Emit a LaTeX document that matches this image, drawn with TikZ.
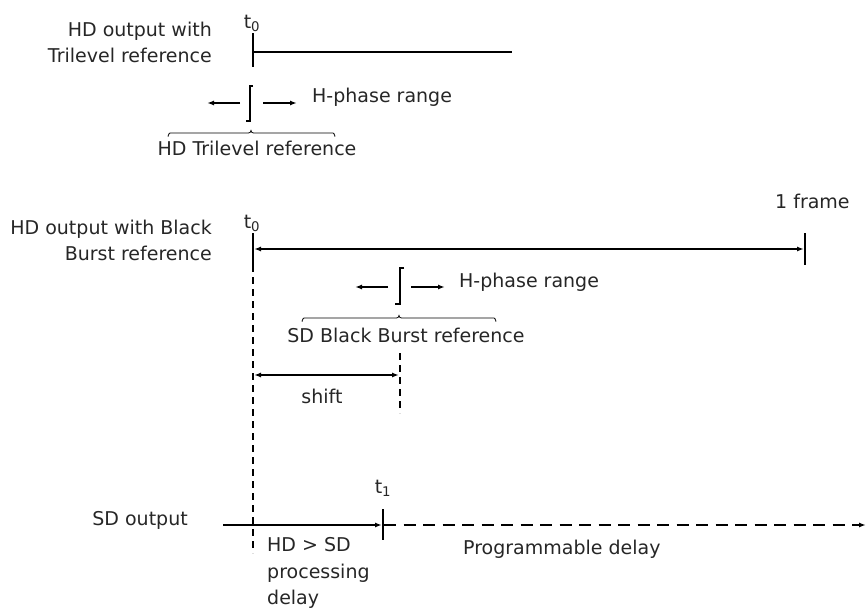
\documentclass[tikz,border=0pt]{standalone}
\usepackage{fontspec}
\setmainfont{DejaVu Sans}
\usetikzlibrary{arrows.meta}
\begin{document}
\begin{tikzpicture}[x=1pt,y=-1pt,
  lbl/.style={inner sep=0pt,font=\fontsize{19}{26.5}\selectfont,text=black!85},
  heavy/.style={line width=2.3pt},
  arr/.style={line width=2pt,-{Latex[length=7pt,width=5pt]}},
  darr/.style={line width=2pt,{Latex[length=7pt,width=5pt]}-{Latex[length=7pt,width=5pt]}},
  bracket/.style={line width=2pt},
  brc/.style={line width=0.8pt},
  vdash/.style={line width=1.2pt,dash pattern=on 7pt off 5pt},
  hdash/.style={line width=2.2pt,dash pattern=on 12pt off 7.5pt}]
\useasboundingbox (0,0) rectangle (867,608);

% ---------- top block: trilevel ----------
\node[lbl,anchor=east,align=right] (ltri) at (212,42.5) {HD output with\\Trilevel reference};
\node[lbl,anchor=base] (t0a) at (252,28) {t\textsubscript{0}};
\coordinate (ta1) at (253,33); \coordinate (ta2) at (253,67);
\coordinate (la1) at (253,52); \coordinate (la2) at (512,52);
\draw[heavy] (ta1) -- (ta2);
\draw[heavy] (la1) -- (la2);
% H-phase
\coordinate (pa1) at (240,103); \coordinate (pa2) at (207,103);
\coordinate (pa3) at (263,103); \coordinate (pa4) at (297,103);
\draw[arr] (pa1) -- (pa2);
\draw[arr] (pa3) -- (pa4);
\coordinate (ba1) at (253,86); \coordinate (ba2) at (249.5,121); \coordinate (ba3) at (246,121);
\draw[bracket] (ba1) -| (ba2) -- (ba3);
\node[lbl,anchor=base west] (hpa) at (312,102) {H-phase range};
% brace
\coordinate (bra1) at (168,136); \coordinate (bra2) at (251,130.5); \coordinate (bra3) at (335,136);
\draw[brc] (bra1) to[out=-90,in=180] (170,133) -- (248.5,133) to[out=0,in=-90] (bra2)
  to[out=-90,in=180] (253.5,133) -- (333,133) to[out=0,in=-90] (bra3);
\node[lbl,anchor=base] (hdtri) at (257,155) {HD Trilevel reference};

% ---------- middle block: black burst ----------
\node[lbl,anchor=east,align=right] (lbb) at (212,240.5) {HD output with Black\\Burst reference};
\node[lbl,anchor=base] (t0b) at (252,228) {t\textsubscript{0}};
\node[lbl,anchor=base west] (frame) at (775,208) {1 frame};
\coordinate (tb1) at (253,233); \coordinate (tb2) at (253,265);
\coordinate (tc1) at (805,233); \coordinate (tc2) at (805,265);
\coordinate (lb1) at (254,249); \coordinate (lb2) at (804,249);
\draw[heavy] (tb1) -- (tb2);
\draw[heavy] (tc1) -- (tc2);
\draw[darr] (lb1) -- (lb2);
% H-phase
\coordinate (pb1) at (388,287); \coordinate (pb2) at (355,287);
\coordinate (pb3) at (411,287); \coordinate (pb4) at (445,287);
\draw[arr] (pb1) -- (pb2);
\draw[arr] (pb3) -- (pb4);
\coordinate (bb1) at (404,268); \coordinate (bb2) at (400,304); \coordinate (bb3) at (395,304);
\draw[bracket] (bb1) -| (bb2) -- (bb3);
\node[lbl,anchor=base west] (hpb) at (459,287) {H-phase range};
% brace
\coordinate (brb1) at (302,321); \coordinate (brb2) at (399,315.5); \coordinate (brb3) at (496,321);
\draw[brc] (brb1) to[out=-90,in=180] (304,318) -- (396.5,318) to[out=0,in=-90] (brb2)
  to[out=-90,in=180] (401.5,318) -- (494,318) to[out=0,in=-90] (brb3);
\node[lbl,anchor=base] (sdbb) at (406,342) {SD Black Burst reference};

% dashed verticals
\coordinate (dv1) at (253,265); \coordinate (dv2) at (253,553);
\coordinate (dw1) at (400,353); \coordinate (dw2) at (400,413);
\draw[vdash] (dv1) -- (dv2);
\draw[vdash] (dw1) -- (dw2);
% shift
\coordinate (sh1) at (254,375); \coordinate (sh2) at (399,375);
\draw[darr] (sh1) -- (sh2);
\node[lbl,anchor=base] (shift) at (322,403) {shift};

% ---------- bottom block: SD output ----------
\node[lbl,anchor=base east] (sdo) at (188,525) {SD output};
\node[lbl,anchor=base] (t1) at (383,493) {t\textsubscript{1}};
\coordinate (so1) at (223,525); \coordinate (so2) at (382,525);
\coordinate (tt1) at (383,509); \coordinate (tt2) at (383,540);
\coordinate (so3) at (384,525); \coordinate (so4) at (866,525);
\draw[arr] (so1) -- (so2);
\draw[heavy] (tt1) -- (tt2);
\draw[hdash,-{Latex[length=7pt,width=5pt]}] (so3) -- (so4);
\node[lbl,anchor=north west,align=left] (proc) at (267,537.5) {HD > SD\\processing\\delay};
\node[lbl,anchor=base west] (prog) at (463,554) {Programmable delay};
\end{tikzpicture}
\end{document}
